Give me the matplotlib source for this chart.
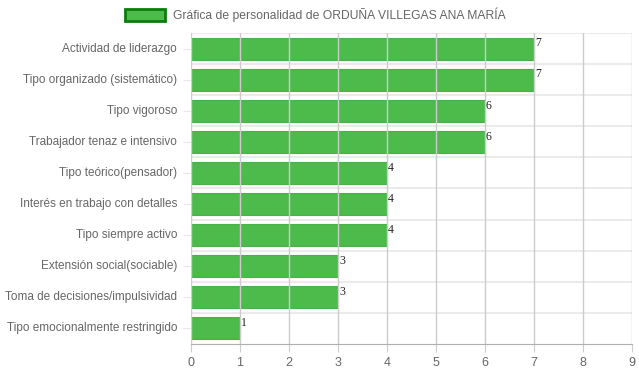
import matplotlib.pyplot as plt
import numpy as np

categorias = ['Actividad de liderazgo', 'Tipo organizado (sistemático)', 'Tipo vigoroso',
              'Trabajador tenaz e intensivo', 'Tipo teórico(pensador)',
              'Interés en trabajo con detalles', 'Tipo siempre activo',
              'Extensión social(sociable)', 'Toma de decisiones/impulsividad',
              'Tipo emocionalmente restringido']
valores = [7, 7, 6, 6, 4, 4, 4, 3, 3, 1]
xticks = list(range(0, 10))
titulo = 'Gráfica de personalidad de ORDUÑA VILLEGAS ANA MARÍA'

plt.rcParams['font.family'] = ['Liberation Sans', 'DejaVu Sans']

fig = plt.figure(figsize=(6.39, 3.72), dpi=100)
ax = fig.add_axes([191/639, 1-344/372, 441/639, 311/372])

n = len(categorias)
y = np.arange(n)
ax.barh(y, valores, height=0.71, color=(0.0, 0.62, 0.0, 0.7),
        edgecolor=(0.2, 0.65, 0.2, 0.8), linewidth=0.8, zorder=1)

for yi, v in zip(y, valores):
    ax.text(v + 0.02, yi - 0.36, str(v), family='Liberation Serif', fontsize=8.5,
            color='#222222', va='top', ha='left', zorder=3)

ax.set_xlim(0, 9)
ax.set_ylim(n - 0.5, -0.5)
ax.set_xticks(xticks)
ax.set_yticks(y)
ax.set_yticklabels(categorias, va='center')
ax.tick_params(axis='y', length=6, color='#e8e8e8', labelsize=8.5, labelcolor='#666666', pad=4)
ax.tick_params(axis='x', length=6, color='#cccccc', labelsize=9, labelcolor='#666666', pad=3)
for lab in ax.get_yticklabels():
    lab.set_y(lab.get_position()[1])

for xv in xticks:
    ax.axvline(xv, color='#cccccc', linewidth=1, zorder=2)
for yb in np.arange(-0.5, n - 0.5, 1):
    ax.axhline(yb, color='#ebebeb', linewidth=1.5, zorder=0)

for s in ['top', 'right', 'left']:
    ax.spines[s].set_visible(False)
ax.spines['bottom'].set_color('#b0b0b0')

# leyenda
fig.patches.append(plt.Rectangle((125/639, 1-21/372), 40/639, 12/372, transform=fig.transFigure,
                                 facecolor=(0.0, 0.62, 0.0, 0.7), edgecolor='#0b7d0b', linewidth=2))
fig.text(173/639, 1-15/372, titulo, fontsize=8.7, color='#666666', va='center', ha='left')

plt.savefig('out.png', dpi=100)
